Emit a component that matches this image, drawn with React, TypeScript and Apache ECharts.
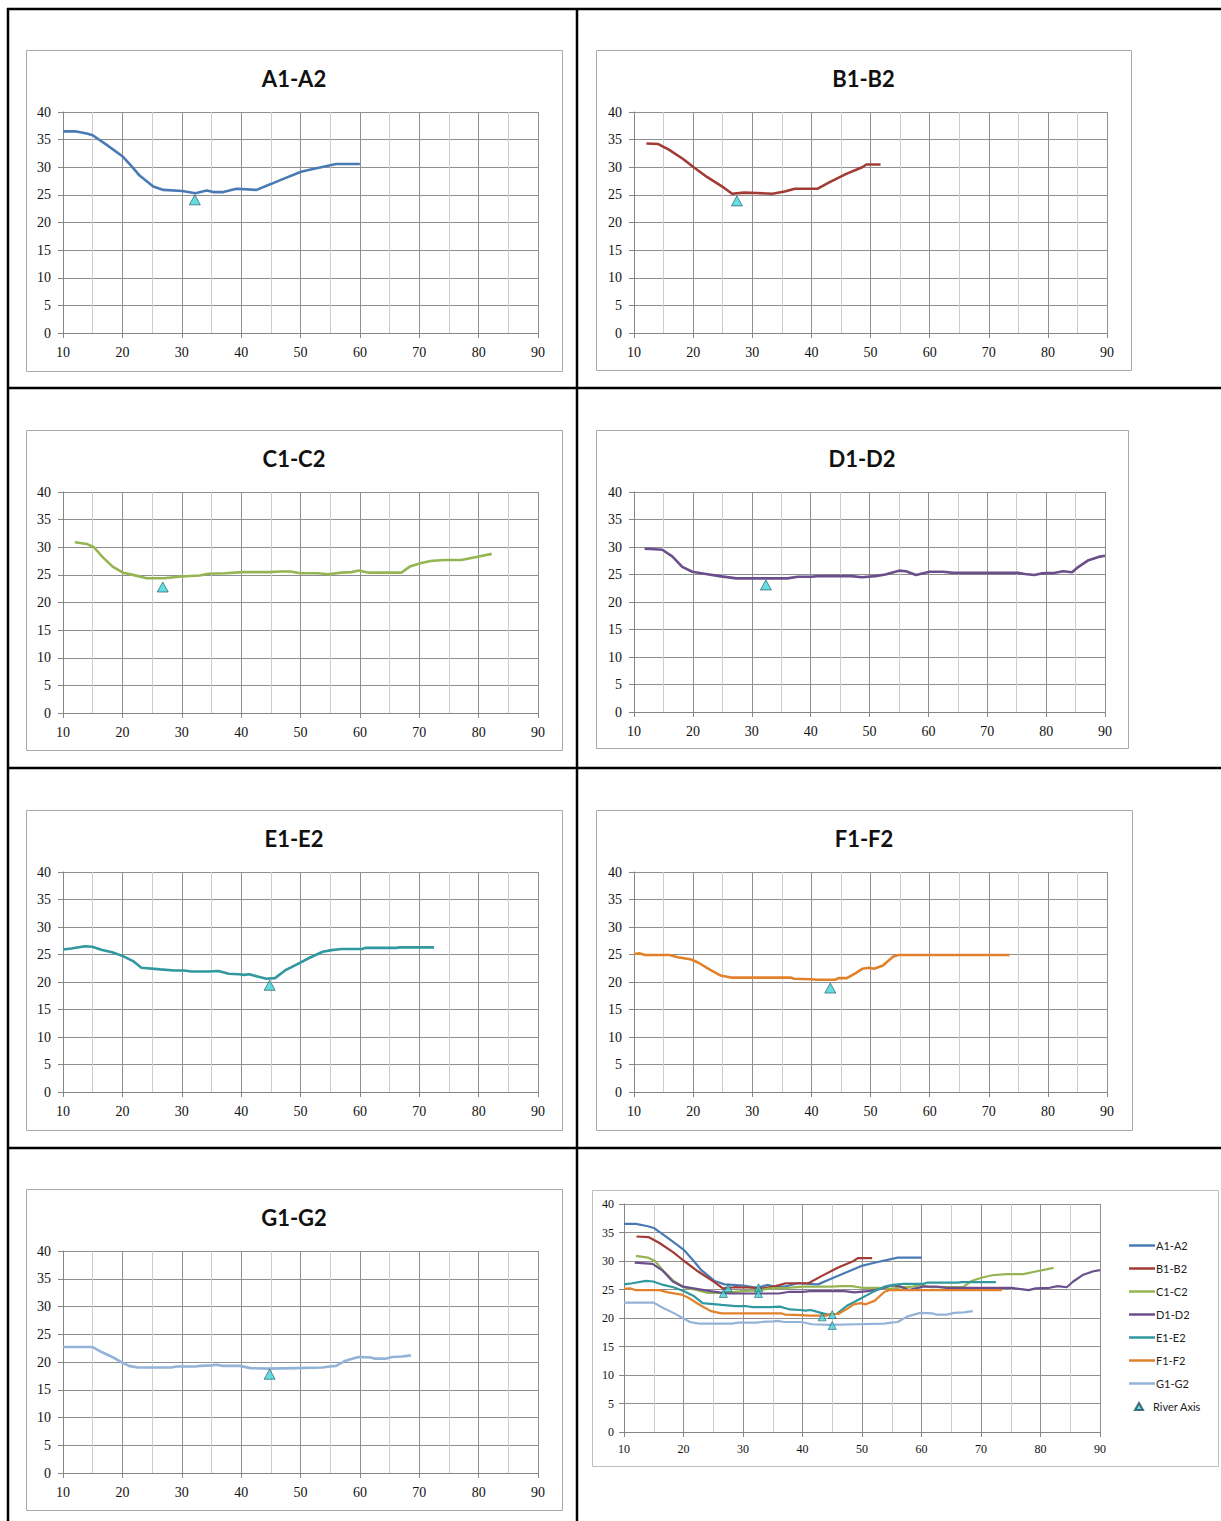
import React, { useEffect, useRef } from "react";
import * as echarts from "echarts";

// Cross-section profiles: [station, elevation]
const profileA: number[][] = [
  [10, 36.5], [12, 36.5], [14, 36.1], [15, 35.8], [17.3, 34.1], [20, 32.0], [21.8, 29.9],
  [22.9, 28.5], [25.2, 26.5], [26.9, 25.9], [30.1, 25.7], [32.3, 25.3], [34.2, 25.8],
  [35.3, 25.5], [37, 25.5], [39.2, 26.1], [42.6, 25.9], [45.1, 27.0], [47.1, 27.9],
  [50.1, 29.2], [52.1, 29.7], [56, 30.6], [60, 30.6],
];
const profileB: number[][] = [
  [12.1, 34.3], [14.1, 34.2], [15.9, 33.2], [18.3, 31.5], [20.1, 30.0], [22.4, 28.2],
  [25.2, 26.3], [26.6, 25.2], [28.6, 25.4], [30.7, 25.35], [33.4, 25.2], [35.5, 25.6],
  [37.2, 26.1], [41.0, 26.1], [43.1, 27.3], [45.9, 28.8], [48.6, 30.0], [49.3, 30.5],
  [51.7, 30.5],
];
const profileC: number[][] = [
  [12.0, 30.9], [14.0, 30.6], [15.2, 30.0], [16.6, 28.3], [18.35, 26.5], [20.1, 25.4],
  [21.8, 25.0], [24.1, 24.4], [27.0, 24.4], [29.9, 24.7], [33.0, 24.9], [34.5, 25.2],
  [37.4, 25.3], [40.2, 25.5], [44.8, 25.5], [46.6, 25.6], [48.3, 25.6], [50.0, 25.3],
  [52.9, 25.3], [54.6, 25.1], [56.9, 25.4], [58.6, 25.5], [59.8, 25.8], [61.5, 25.4],
  [67.0, 25.4], [68.4, 26.5], [70.2, 27.1], [71.9, 27.5], [74.2, 27.7], [77.1, 27.7],
  [79.4, 28.2], [82.2, 28.8],
];
const profileD: number[][] = [
  [11.8, 29.7], [13.6, 29.6], [14.8, 29.5], [16.5, 28.3], [18.2, 26.4], [19.9, 25.5],
  [22.2, 25.1], [24.5, 24.7], [27.4, 24.3], [32.0, 24.3], [36.05, 24.3], [37.8, 24.6],
  [40.1, 24.6], [41.2, 24.7], [47.0, 24.7], [48.7, 24.5], [51.0, 24.7], [52.7, 25.0],
  [55.0, 25.7], [56.2, 25.6], [57.9, 24.9], [60.2, 25.5], [62.5, 25.5], [64.2, 25.3],
  [69.4, 25.3], [75.2, 25.3], [76.4, 25.1], [78.0, 24.9], [79.2, 25.2], [81.5, 25.3],
  [82.9, 25.6], [84.4, 25.4], [85.5, 26.4], [87.2, 27.6], [88.9, 28.2], [90, 28.4],
];
const profileE: number[][] = [
  [10, 25.9], [11.4, 26.1], [13.7, 26.5], [14.9, 26.4], [16.6, 25.8], [18.3, 25.4],
  [20.1, 24.7], [21.8, 23.8], [23.2, 22.6], [26.4, 22.3], [28.7, 22.1], [30.4, 22.1],
  [31.6, 21.9], [34.5, 21.9], [36.2, 22.0], [37.9, 21.5], [39.6, 21.4], [40.5, 21.3],
  [41.4, 21.4], [43.1, 20.9], [44.25, 20.6], [45.7, 20.7], [47.4, 22.1], [49.4, 23.2],
  [51.7, 24.5], [53.75, 25.5], [55.2, 25.8], [56.9, 26.0], [60.4, 26.0], [60.9, 26.2],
  [66.1, 26.2], [66.7, 26.3], [72.5, 26.3],
];
const profileF: number[][] = [
  [10, 25.1], [11.0, 25.2], [11.9, 24.9], [16.0, 24.9], [17.4, 24.5], [19.7, 24.1],
  [20.9, 23.5], [22.9, 22.2], [24.6, 21.2], [26.4, 20.8], [29.5, 20.8], [36.5, 20.8],
  [37.05, 20.6], [39.9, 20.5], [41.1, 20.4], [44.0, 20.4], [44.6, 20.7], [46.0, 20.7],
  [47.5, 21.6], [48.6, 22.4], [49.8, 22.6], [50.6, 22.4], [52.1, 23.0], [53.8, 24.6],
  [54.7, 24.9], [61.3, 24.9], [73.5, 24.9],
];
const profileG: number[][] = [
  [10, 22.7], [15.0, 22.7], [16.5, 21.8], [18.3, 20.9], [20.0, 19.9], [21.1, 19.3],
  [22.6, 19.0], [28.2, 19.0], [29.1, 19.2], [32.3, 19.2], [33.1, 19.3], [35.2, 19.4],
  [35.8, 19.5], [36.9, 19.3], [39.8, 19.3], [41.6, 18.9], [44.5, 18.8], [49.2, 18.9],
  [53.7, 19.0], [54.9, 19.2], [56.0, 19.3], [57.5, 20.2], [58.4, 20.5], [59.8, 20.9],
  [61.9, 20.8], [62.5, 20.6], [64.3, 20.6], [65.5, 20.9], [67.1, 21.0], [68.6, 21.2],
];

const sectionNames = ["A1-A2", "B1-B2", "C1-C2", "D1-D2", "E1-E2", "F1-F2", "G1-G2"];
const profiles = [profileA, profileB, profileC, profileD, profileE, profileF, profileG];

// River axis position on each single-section plot
const riverAxisSingle: number[][] = [
  [32.2, 24.1], [27.4, 23.9], [26.8, 22.8], [32.4, 23.1], [44.8, 19.4], [43.2, 18.9], [44.8, 17.8],
];
// River axis positions on the overview plot
const riverAxisOverview: number[][] = [
  [32.6, 25.3], [27.5, 25.3], [26.7, 24.3], [32.6, 24.3], [45.0, 20.6], [43.3, 20.2], [45.0, 18.7],
];

const xTicks = { min: 10, max: 90, step: 10 };
const yTicks = { min: 0, max: 40, step: 5 };

const lineColors = ["#4a7ab4", "#a23b36", "#95b552", "#6b4f8c", "#2f999f", "#e2812c", "#93b3d8"];

// Panel frames [left, top, width, height] and plot areas
const panelLayout = [
  { box: [26, 50, 536, 321], plot: [63, 112, 475, 221] },
  { box: [596, 50, 535, 320], plot: [634, 112, 473, 221] },
  { box: [26, 430, 536, 320], plot: [63, 492, 475, 221] },
  { box: [596, 430, 532, 318], plot: [634, 492, 471, 220] },
  { box: [26, 810, 536, 320], plot: [63, 872, 475, 220] },
  { box: [596, 810, 536, 320], plot: [634, 872, 473, 220] },
  { box: [26, 1189, 536, 321], plot: [63, 1251, 475, 222] },
];
const overviewLayout = { box: [592, 1190, 626, 276], plot: [624, 1204, 476, 228] };

const TICK_FONT = "'Liberation Serif', 'DejaVu Serif', serif";
const SANS = "Lato, 'Liberation Sans', sans-serif";

function axisPair(i: number, size: number) {
  const x = {
    type: "value",
    gridIndex: i,
    min: xTicks.min,
    max: xTicks.max,
    interval: xTicks.step,
    axisLine: { show: true, onZero: false, lineStyle: { color: "#868686", width: 1 } },
    axisTick: { show: true, length: 5, lineStyle: { color: "#868686" } },
    axisLabel: { color: "#111", fontFamily: TICK_FONT, fontSize: size, margin: 12 },
    splitLine: { show: true, lineStyle: { color: "#8f8f8f", width: 1 } },
    minorTick: { show: false, splitNumber: 2 },
    minorSplitLine: { show: true, lineStyle: { color: "#cdcdcd", width: 1 } },
  };
  const y = {
    type: "value",
    gridIndex: i,
    min: yTicks.min,
    max: yTicks.max,
    interval: yTicks.step,
    axisLine: { show: true, onZero: false, lineStyle: { color: "#868686", width: 1 } },
    axisTick: { show: true, length: 5, lineStyle: { color: "#868686" } },
    axisLabel: { color: "#111", fontFamily: TICK_FONT, fontSize: size, margin: 12 },
    splitLine: { show: true, lineStyle: { color: "#8f8f8f", width: 1 } },
  };
  return { x, y };
}

function buildOption() {
  const grids: any[] = [];
  const xAxes: any[] = [];
  const yAxes: any[] = [];
  const series: any[] = [];
  const graphics: any[] = [];

  // table rules
  const rule = { stroke: "#000", lineWidth: 2.5 };
  [9, 388, 768, 1148].forEach((y) =>
    graphics.push({ type: "line", shape: { x1: 7, y1: y, x2: 1221, y2: y }, style: rule, z: 10 })
  );
  [8, 577].forEach((x) =>
    graphics.push({ type: "line", shape: { x1: x, y1: 8, x2: x, y2: 1521 }, style: rule, z: 10 })
  );

  panelLayout.forEach((p, i) => {
    const [bx, by, bw, bh] = p.box;
    const [px, py, pw, ph] = p.plot;
    grids.push({ left: px, top: py, width: pw, height: ph, containLabel: false });
    const { x, y } = axisPair(i, 14);
    xAxes.push(x);
    yAxes.push(y);
    graphics.push({
      type: "rect",
      shape: { x: bx + 0.5, y: by + 0.5, width: bw, height: bh },
      style: { fill: "none", stroke: "#a9a9a9", lineWidth: 1 },
      z: 1,
    });
    graphics.push({
      type: "text",
      x: bx + bw / 2,
      y: by + 28,
      style: {
        text: sectionNames[i],
        font: `bold 22px ${SANS}`,
        fill: "#111",
        textAlign: "center",
        textVerticalAlign: "middle",
      },
      z: 5,
    });
    series.push({
      type: "line",
      name: sectionNames[i],
      xAxisIndex: i,
      yAxisIndex: i,
      data: profiles[i],
      symbol: "none",
      lineStyle: { color: lineColors[i], width: 2.6 },
      itemStyle: { color: lineColors[i] },
      z: 3,
    });
    series.push({
      type: "scatter",
      name: "River Axis",
      xAxisIndex: i,
      yAxisIndex: i,
      data: [riverAxisSingle[i]],
      symbol: "triangle",
      symbolSize: [11, 10],
      itemStyle: { color: "#3dd6dc", borderColor: "#1d4d5a", borderWidth: 0.8 },
      z: 4,
    });
  });

  // overview panel with every section
  const oi = panelLayout.length;
  {
    const [bx, by, bw, bh] = overviewLayout.box;
    const [px, py, pw, ph] = overviewLayout.plot;
    grids.push({ left: px, top: py, width: pw, height: ph, containLabel: false });
    const { x, y } = axisPair(oi, 12);
    x.axisLabel.margin = 11;
    y.axisLabel.margin = 10;
    xAxes.push(x);
    yAxes.push(y);
    graphics.push({
      type: "rect",
      shape: { x: bx + 0.5, y: by + 0.5, width: bw, height: bh },
      style: { fill: "none", stroke: "#bdbdbd", lineWidth: 1 },
      z: 1,
    });
    profiles.forEach((d, k) => {
      series.push({
        type: "line",
        name: sectionNames[k],
        xAxisIndex: oi,
        yAxisIndex: oi,
        data: d,
        symbol: "none",
        lineStyle: { color: lineColors[k], width: 2.2 },
        itemStyle: { color: lineColors[k] },
        z: 3,
      });
    });
    series.push({
      type: "scatter",
      name: "River Axis",
      xAxisIndex: oi,
      yAxisIndex: oi,
      data: riverAxisOverview,
      symbol: "triangle",
      symbolSize: [8, 8],
      itemStyle: { color: "#3dd6dc", borderColor: "#1d4d5a", borderWidth: 0.7 },
      z: 4,
    });
  }

  return {
    animation: false,
    backgroundColor: "#fff",
    grid: grids,
    xAxis: xAxes,
    yAxis: yAxes,
    series,
    graphic: { elements: graphics },
    legend: [
      {
        data: sectionNames.map((n) => ({ name: n, icon: "rect" })),
        orient: "vertical",
        left: 1124,
        top: 1234,
        itemWidth: 26,
        itemHeight: 2.5,
        itemGap: 10,
        selectedMode: false,
        textStyle: { fontFamily: SANS, fontSize: 11, lineHeight: 13, color: "#222", padding: [0, 0, 0, -4] },
      },
      {
        data: [{ name: "River Axis", icon: "triangle" }],
        orient: "vertical",
        left: 1129,
        top: 1396,
        itemWidth: 8,
        itemHeight: 7,
        selectedMode: false,
        textStyle: { fontFamily: SANS, fontSize: 11, color: "#222", padding: [0, 0, 0, 5] },
      },
    ],
  };
}

export default function App() {
  const ref = useRef<HTMLDivElement>(null);
  useEffect(() => {
    if (!ref.current) return;
    const chart = echarts.init(ref.current, undefined, { renderer: "svg" });
    chart.setOption(buildOption() as any);
    return () => chart.dispose();
  }, []);
  return (
    <div
      ref={ref}
      style={{ position: "absolute", left: 0, top: 0, width: 1221, height: 1521, background: "#fff" }}
    />
  );
}
